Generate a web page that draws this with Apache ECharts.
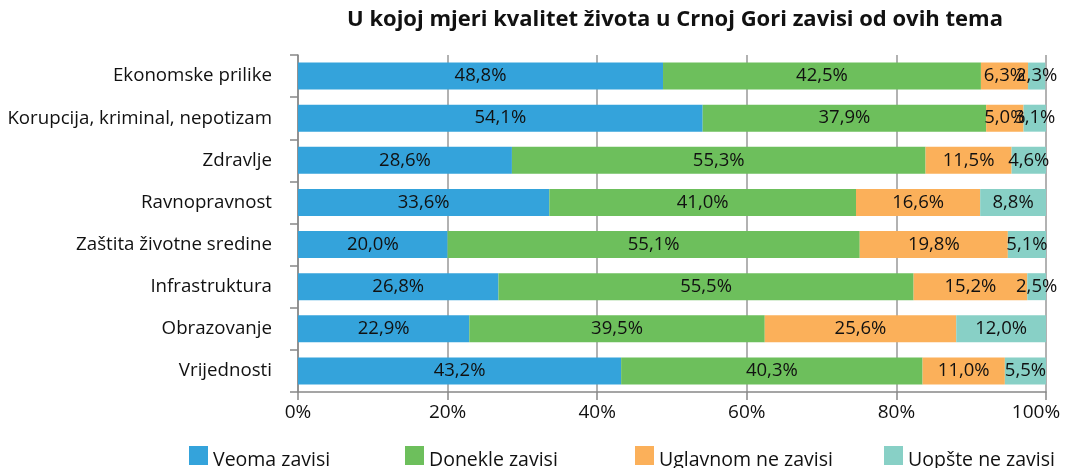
<!DOCTYPE html>
<html><head><meta charset="utf-8">
<script src="https://cdn.jsdelivr.net/npm/echarts@6/dist/echarts.min.js"></script>
<style>html,body{margin:0;padding:0;background:#fff}#c{width:1067px;height:468px}</style>
</head><body><div id="c"></div>
<script>
const categories = ["Ekonomske prilike","Korupcija, kriminal, nepotizam","Zdravlje","Ravnopravnost","Zaštita životne sredine","Infrastruktura","Obrazovanje","Vrijednosti"];
const veoma = [48.8,54.1,28.6,33.6,20.0,26.8,22.9,43.2];
const donekle = [42.5,37.9,55.3,41.0,55.1,55.5,39.5,40.3];
const uglavnom = [6.3,5.0,11.5,16.6,19.8,15.2,25.6,11.0];
const uopste = [2.3,3.1,4.6,8.8,5.1,2.5,12.0,5.5];
const seriesNames = ["Veoma zavisi","Donekle zavisi","Uglavnom ne zavisi","Uopšte ne zavisi"];
const xTicks = [0,20,40,60,80,100];

const FONT = "Open Sans";
const colors = ["#34a3db","#6dbf5c","#fbb05a","#88d0c6"];
const dataSets = [veoma, donekle, uglavnom, uopste];
const chart = echarts.init(document.getElementById('c'));
const legendLefts = [189, 405, 635, 884];
chart.setOption({
  animation: false,
  textStyle: {fontFamily: FONT},
  title: {text: "U kojoj mjeri kvalitet života u Crnoj Gori zavisi od ovih tema", left: 675, textAlign: 'center', top: 9, padding: 0,
    textStyle: {fontFamily: FONT, fontWeight: 'bold', fontSize: 22, color: '#111'}},
  legend: seriesNames.map((n, i) => ({
    data: [n], left: legendLefts[i], top: 446, padding: 0, itemWidth: 19, itemHeight: 19, icon: 'rect',
    formatter: s => '{a|' + s + '}',
    textStyle: {fontFamily: FONT, fontSize: 19.5, color: '#111',
      rich: {a: {fontFamily: FONT, fontSize: 19.5, color: '#111', padding: [9,0,0,0]}}}
  })),
  grid: {left: 298, right: 21, top: 55, bottom: 76, outerBoundsMode: 'none', containLabel: false},
  xAxis: {type: 'value', min: 0, max: 100, interval: 20,
    axisLabel: {formatter: v => xTicks.includes(v) ? (v === 100 ? '{l|' + v + '%}' : v + '%') : '', fontSize: 19, color: '#111', margin: 11, fontFamily: FONT,
      rich: {l: {fontFamily: FONT, fontSize: 19, color: '#111', padding: [0,20,0,0]}}},
    axisLine: {show: true, lineStyle: {color: '#888', width: 1.5}},
    axisTick: {show: true, length: 8, lineStyle: {color: '#888', width: 1.5}},
    splitLine: {show: true, lineStyle: {color: '#999', width: 1.5}}},
  yAxis: {type: 'category', data: categories, inverse: true,
    axisLabel: {fontSize: 18.7, color: '#111', margin: 26, fontFamily: FONT},
    axisLine: {show: true, lineStyle: {color: '#888', width: 1.5}},
    axisTick: {show: true, length: 8, lineStyle: {color: '#888', width: 1.5}}},
  color: colors,
  series: dataSets.map((d, i) => ({
    name: seriesNames[i], type: 'bar', stack: 'a', barWidth: '64%', data: d,
    itemStyle: {color: colors[i]},
    label: {show: true, position: 'inside', fontSize: 18.5, color: '#111', fontFamily: FONT,
      formatter: p => p.value.toFixed(1).replace('.', ',') + '%'}
  }))
});
</script></body></html>
